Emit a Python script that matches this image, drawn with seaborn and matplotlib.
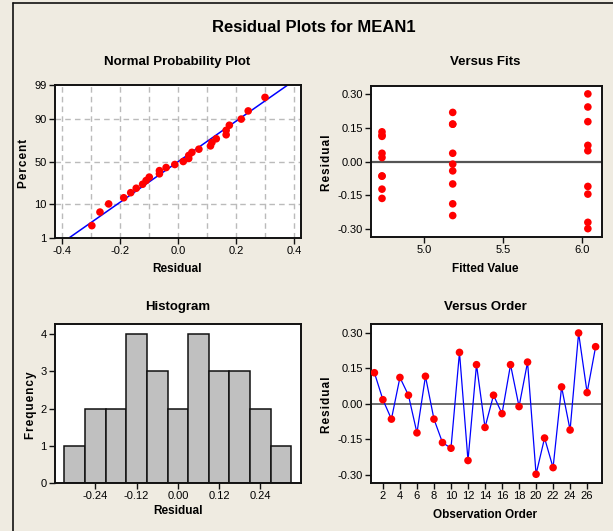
import numpy as np
import pandas as pd
import matplotlib
matplotlib.use('Agg')
import matplotlib.pyplot as plt
from matplotlib.lines import Line2D
from statistics import NormalDist
import seaborn as sns

order = list(range(1, 28))
residuals = [0.132, 0.018, -0.064, 0.112, 0.037, -0.122, 0.117, -0.064, -0.163,
             -0.187, 0.218, -0.239, 0.166, -0.099, 0.037, -0.041, 0.166, -0.011,
             0.177, -0.297, -0.144, -0.269, 0.072, -0.110, 0.300, 0.048, 0.242]
# fitted value of each observation (three groups of nine)
fitted = [4.73] * 9 + [5.18] * 9 + [6.04] * 9

pct_ticks = [1, 10, 50, 90, 99]

df = pd.DataFrame({'order': order, 'resid': residuals, 'fit': fitted})

nd = NormalDist()
n = len(df)
srt = df.sort_values('resid').reset_index(drop=True)
srt['z'] = [nd.inv_cdf((i + 1 - 0.3) / (n + 0.4)) for i in range(n)]
mu = df['resid'].mean()
sd = df['resid'].std()
zl = np.array([nd.inv_cdf(0.01), nd.inv_cdf(0.99)])
line_df = pd.DataFrame({'x': mu + sd * zl, 'z': zl})

sns.set_theme(style='white')
plt.rcParams['font.family'] = ['Liberation Sans', 'DejaVu Sans']
plt.rcParams['axes.unicode_minus'] = False
plt.rcParams['text.color'] = 'black'
plt.rcParams['xtick.color'] = 'black'
plt.rcParams['ytick.color'] = 'black'

W, H = 613, 531
bg = '#EFEBE1'
fig = plt.figure(figsize=(W / 100, H / 100), dpi=100, facecolor=bg)

def box(l, t, r, b):
    return [l / W, 1 - b / H, (r - l) / W, (b - t) / H]

def style(ax):
    ax.set_facecolor('white')
    for s in ax.spines.values():
        s.set_color('#111111')
        s.set_linewidth(1.4)
    ax.tick_params(axis='both', which='major', direction='out', length=4, width=1,
                   color='#111111', labelsize=8, pad=2, bottom=True, left=True)
    ax.set_xlabel('')
    ax.set_ylabel('')

def ftext(x, y, s, size=8.5, rot=0):
    fig.text(x / W, 1 - y / H, s, ha='center', va='center', fontsize=size,
             fontweight='bold', rotation=rot, color='black')

def spaced(s):
    return '\u200a'.join(s)

red = '#FF0000'
blue = '#0000FF'

# Normal probability plot
ax1 = fig.add_axes(box(55, 85, 301, 238))
sns.lineplot(data=line_df, x='x', y='z', color=blue, lw=1.1, ax=ax1)
sns.scatterplot(data=srt, x='resid', y='z', color=red, s=30, edgecolor='none', ax=ax1, zorder=3)
ax1.set_xlim(-0.424, 0.424)
ax1.set_ylim(zl[0], zl[1])
ax1.set_xticks([-0.4, -0.2, 0.0, 0.2, 0.4])
ax1.set_xticklabels(['-0.4', '-0.2', '0.0', '0.2', '0.4'])
ax1.set_yticks([nd.inv_cdf(p / 100) for p in pct_ticks])
ax1.set_yticklabels([str(p) for p in pct_ticks])
for gx in np.arange(-0.4, 0.41, 0.1):
    ax1.axvline(gx, color='#BBBBBB', ls=(0, (4, 3)), lw=1, zorder=0)
for p in [10, 50, 90]:
    ax1.axhline(nd.inv_cdf(p / 100), color='#BBBBBB', ls=(0, (4, 3)), lw=1, zorder=0)
style(ax1)

# Versus fits
ax2 = fig.add_axes(box(371, 86, 602, 237))
ax2.axhline(0, color='#555555', lw=1.6, zorder=1)
sns.scatterplot(data=df, x='fit', y='resid', color=red, s=30, edgecolor='none', ax=ax2, zorder=3)
ax2.set_xlim(4.66, 6.13)
ax2.set_ylim(-0.334, 0.335)
ax2.set_xticks([5.0, 5.5, 6.0])
ax2.set_xticklabels(['5.0', '5.5', '6.0'])
ax2.set_yticks([0.30, 0.15, 0.0, -0.15, -0.30])
ax2.set_yticklabels(['0.30', '0.15', '0.00', '-0.15', '-0.30'])
style(ax2)

# Histogram
ax3 = fig.add_axes(box(55, 324, 301, 483))
sns.histplot(data=df, x='resid', binwidth=0.06, binrange=(-0.33, 0.33), color='#C0C0C0',
             edgecolor='#111111', linewidth=1.1, alpha=1, ax=ax3)
ax3.set_xlim(-0.357, 0.358)
ax3.set_ylim(0, 4.27)
ax3.set_xticks([-0.24, -0.12, 0.0, 0.12, 0.24])
ax3.set_xticklabels(['-0.24', '-0.12', '0.00', '0.12', '0.24'])
ax3.set_yticks([0, 1, 2, 3, 4])
style(ax3)

# Versus order
ax4 = fig.add_axes(box(371, 324, 602, 483))
ax4.axhline(0, color='#444444', lw=1.1, zorder=1)
sns.lineplot(data=df, x='order', y='resid', color=blue, lw=0.9, ax=ax4, zorder=2)
sns.scatterplot(data=df, x='order', y='resid', color=red, s=30, edgecolor='none', ax=ax4, zorder=3)
ax4.set_xlim(0.6, 27.75)
ax4.set_ylim(-0.334, 0.338)
ax4.set_xticks(list(range(2, 27, 2)))
ax4.set_yticks([0.30, 0.15, 0.0, -0.15, -0.30])
ax4.set_yticklabels(['0.30', '0.15', '0.00', '-0.15', '-0.30'])
style(ax4)

# titles and labels
ftext(314, 27, 'Residual Plots for MEAN1', size=12)
ftext(177, 62, 'Normal Probability Plot', size=9.5)
ftext(485, 62, 'Versus Fits', size=9.5)
ftext(178, 307, 'Histogram', size=9.5)
ftext(485, 307, 'Versus Order', size=9.5)
ftext(177, 269, 'Residual')
ftext(485, 269, 'Fitted Value')
ftext(178, 511, 'Residual')
ftext(485, 515, 'Observation Order')
ftext(24, 163, spaced('Percent'), rot=90)
ftext(327, 163, spaced('Residual'), rot=90)
ftext(31, 405, spaced('Frequency'), rot=90)
ftext(327, 405, spaced('Residual'), rot=90)

# frame lines
fig.add_artist(Line2D([13 / W, 1], [1 - 3 / H, 1 - 3 / H], color='#111111', lw=1.2))
fig.add_artist(Line2D([13 / W, 13 / W], [0, 1 - 3 / H], color='#111111', lw=1.2))

fig.savefig('out.png', dpi=100, facecolor=bg)
